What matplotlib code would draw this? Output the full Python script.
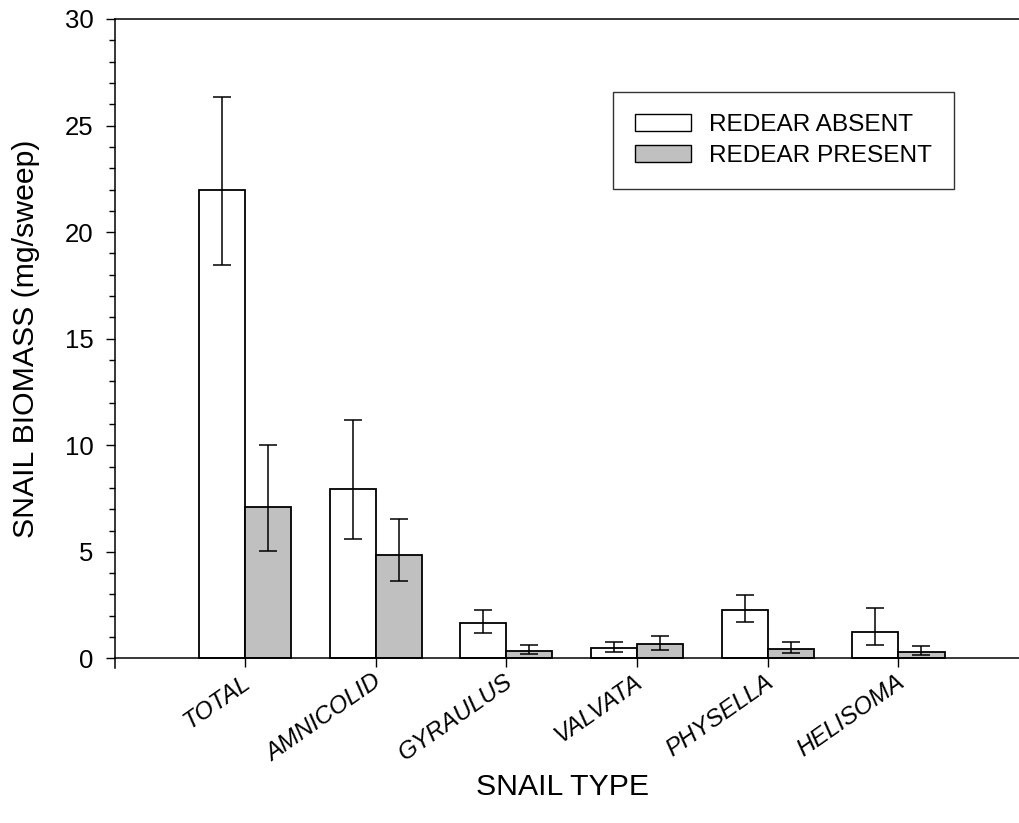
import numpy as np
import matplotlib
matplotlib.use("Agg")
import matplotlib.pyplot as plt
import matplotlib.transforms as mtransforms
from matplotlib.ticker import MultipleLocator
from matplotlib.patches import Patch

plt.rcParams['font.family'] = ['Liberation Sans', 'DejaVu Sans']

categories = ["TOTAL", "AMNICOLID", "GYRAULUS", "VALVATA", "PHYSELLA", "HELISOMA"]
absent = [22.0, 7.93, 1.66, 0.50, 2.26, 1.24]
absent_hi = [26.36, 11.17, 2.28, 0.78, 2.99, 2.38]
absent_lo = [18.44, 5.62, 1.20, 0.30, 1.71, 0.63]
present = [7.10, 4.87, 0.36, 0.66, 0.45, 0.31]
present_hi = [10.0, 6.53, 0.64, 1.05, 0.75, 0.59]
present_lo = [5.04, 3.63, 0.20, 0.39, 0.25, 0.16]

W, H = 1019, 823
fig = plt.figure(figsize=(W/100, H/100), dpi=100)
ax = fig.add_axes([115/W, 1-668/H, 1-115/W, (668-19)/H])

x = np.arange(len(categories))
bw = 0.352
a = np.array(absent); p = np.array(present)
a_err = [a - np.array(absent_lo), np.array(absent_hi) - a]
p_err = [p - np.array(present_lo), np.array(present_hi) - p]

ax.bar(x - bw/2, a, bw, color='white', edgecolor='black', linewidth=1.3, zorder=2)
ax.bar(x + bw/2, p, bw, color='#c0c0c0', edgecolor='black', linewidth=1.3, zorder=2)
ax.errorbar(x - bw/2, a, yerr=a_err, fmt='none', ecolor='black', elinewidth=1.1,
            capsize=6.8, capthick=1.1, zorder=3)
ax.errorbar(x + bw/2, p, yerr=p_err, fmt='none', ecolor='black', elinewidth=1.1,
            capsize=6.8, capthick=1.1, zorder=3)

ax.set_xlim(-0.9946, 5.922)
ax.set_ylim(-0.45, 30)
ax.spines['bottom'].set_position(('data', 0))
ax.spines['right'].set_visible(False)
for s in ['left', 'bottom', 'top']:
    ax.spines[s].set_linewidth(1.1)

ax.set_yticks([0, 5, 10, 15, 20, 25, 30])
ax.yaxis.set_minor_locator(MultipleLocator(1))
ax.tick_params(axis='y', which='major', direction='out', length=6.5, width=1.0,
               labelsize=18.5, pad=9)
ax.tick_params(axis='y', which='minor', direction='out', length=4.3, width=1.0)
ax.set_xticks(x)
ax.set_xticklabels(categories, rotation=35, ha='right', rotation_mode='anchor',
                   fontsize=17.5, style='italic')
ax.tick_params(axis='x', which='major', direction='out', length=6.5, width=1.0, pad=2)
ax.tick_params(axis='x', which='minor', bottom=False)
off = mtransforms.ScaledTranslation(-3/100, 0, fig.dpi_scale_trans)
for lbl in ax.get_xticklabels():
    lbl.set_transform(lbl.get_transform() + off)

fig.text(26/W, 1-339/H, "SNAIL BIOMASS (mg/sweep)", rotation=90, ha='center',
         va='center', fontsize=21.8)
fig.text(563/W, 1-787/H, "SNAIL TYPE", ha='center', va='center', fontsize=21.8)

handles = [Patch(facecolor='white', edgecolor='black', linewidth=1.0),
           Patch(facecolor='#c0c0c0', edgecolor='black', linewidth=1.0)]
leg = fig.legend(handles, ["REDEAR ABSENT", "REDEAR PRESENT"],
                 loc='upper left', bbox_to_anchor=(613/W, 1-92/H),
                 fontsize=17.6, frameon=True, fancybox=False, edgecolor='black',
                 handlelength=2.3, handleheight=0.66, handletextpad=0.72,
                 borderpad=0.9, labelspacing=0.38, borderaxespad=0)
leg.get_frame().set_linewidth(1.0)

fig.savefig("out.png", dpi=100)
